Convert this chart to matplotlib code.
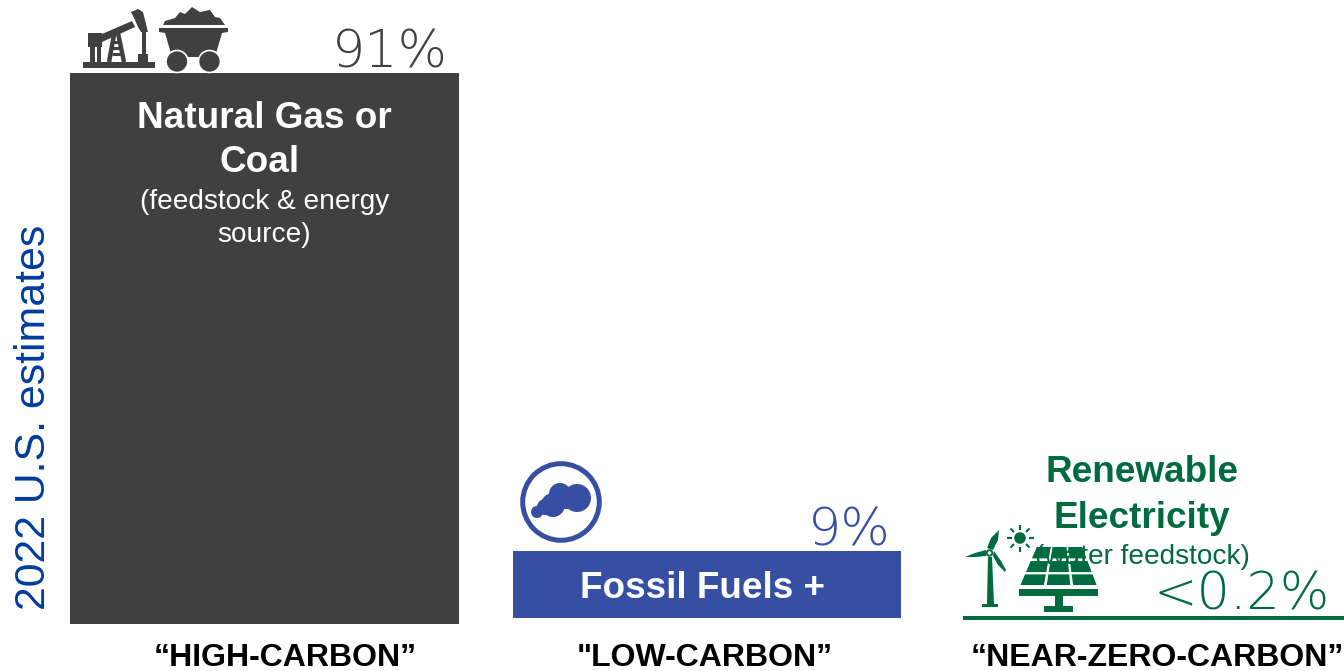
import matplotlib
matplotlib.use("Agg")
import matplotlib.pyplot as plt
from matplotlib import font_manager as fm
from matplotlib.patches import Polygon, Circle, Rectangle
import numpy as np
import glob

# bar heights, in percent-like units of the first bar
categories = ["\u201cHIGH-CARBON\u201d", "\"LOW-CARBON\u201d", "\u201cNEAR-ZERO-CARBON\u201d"]
share_labels = ["91%", "9%", "<0.2%"]
bar_heights = [91.0, 11.1, 0.7]
bar_bottoms = [0.0, 1.0, 0.65]
bar_lefts = [70, 513, 963]
bar_widths = [389, 388, 381]

DARK = "#404040"
BLUE = "#364fa2"
GREEN = "#006b3f"
bar_colors = [DARK, BLUE, GREEN]

plt.rcParams["font.family"] = ["Liberation Sans", "DejaVu Sans"]

# thin wide face for the big percentages
extra_light = glob.glob("/usr/share/fonts/**/DejaVuSans-ExtraLight.ttf", recursive=True)
lato_light = [f.fname for f in fm.fontManager.ttflist if f.fname.endswith("Lato-Light.ttf")]
if extra_light:
    pct_font = fm.FontProperties(fname=extra_light[0], size=37.5)
elif lato_light:
    pct_font = fm.FontProperties(fname=lato_light[0], size=37.5)
else:
    pct_font = fm.FontProperties(family="Lato", size=37.5)

W, H = 1344, 671
fig = plt.figure(figsize=(W / 100, H / 100), dpi=100)

# 6.055 px per unit, baseline at y=624 px
ax = fig.add_axes([0, 0, 1, 1])
ax.set_xlim(0, W)
ax.set_ylim(-(H - 624) / 6.055, 624 / 6.055)
ax.axis("off")
bars = ax.bar(bar_lefts, bar_heights, width=bar_widths, bottom=bar_bottoms,
              align="edge", color=bar_colors, linewidth=0)

# overlay in picture pixels for the text and the icons
ov = fig.add_axes([0, 0, 1, 1])
ov.set_xlim(0, W)
ov.set_ylim(H, 0)
ov.axis("off")
ov.patch.set_alpha(0)


def poly(pts, color):
    ov.add_patch(Polygon(pts, closed=True, color=color, linewidth=0))


def rect(x0, y0, x1, y1, color):
    ov.add_patch(Rectangle((x0, y0), x1 - x0, y1 - y0, color=color, linewidth=0))


def line(x0, y0, x1, y1, color, lw):
    ov.plot([x0, x1], [y0, y1], color=color, lw=lw, solid_capstyle="butt")


def oil_pump(c):
    rect(83, 62, 155, 68, c)
    rect(88, 33, 102, 47, c)
    rect(90, 47, 95, 62, c)
    rect(97, 47, 101, 62, c)
    poly([(102, 34), (132, 21), (135, 27), (102, 42)], c)
    poly([(131, 12), (138, 9), (143, 12), (148, 32), (141, 32), (138, 27), (135, 20)], c)
    # tower
    line(114, 35, 109, 62, c, 3.2)
    line(118, 33, 124, 62, c, 3.2)
    for y in (42, 48, 54):
        line(112, y, 121, y, c, 2.2)
    rect(142, 31, 145.5, 56, c)
    rect(138, 54, 148, 62, c)


def coal_cart(c):
    poly([(163, 25), (165, 21), (175, 18), (180, 12), (185, 14), (192, 7), (200, 12),
          (210, 10), (215, 17), (220, 18), (225, 25)], c)
    poly([(159, 28), (228, 28), (228, 32), (222, 33), (215, 57), (172, 57), (165, 33),
          (159, 32)], c)
    ov.add_patch(Circle((177, 61.5), 11, fc=c, ec="white", lw=1.2))
    ov.add_patch(Circle((209.5, 61.5), 11, fc=c, ec="white", lw=1.2))


def smoke(c):
    ov.add_patch(Circle((561, 502), 38.3, fc="none", ec=c, lw=3.6))
    for x, y, r in [(577, 498, 14), (560, 494, 11), (566, 499, 10), (553, 505, 12),
                    (545, 507, 8), (537, 512, 6)]:
        ov.add_patch(Circle((x, y), r, fc=c, lw=0))


def turbine(c):
    poly([(988, 557), (992, 557), (994, 604), (987, 604)], c)
    rect(982, 604, 998, 607, c)
    poly([(987, 548), (991, 538), (999, 530), (998, 540), (993, 550)], c)
    poly([(986, 550), (975, 553), (965, 557), (975, 557), (986, 556)], c)
    poly([(993, 556), (998, 565), (1005, 572), (1006, 570), (1001, 561), (994, 551)], c)
    ov.add_patch(Circle((989.5, 553), 2.8, fc="white", ec=c, lw=1.4))


def sun(c):
    cx, cy = 1020, 538
    ov.add_patch(Circle((cx, cy), 5.8, fc=c, lw=0))
    for a in np.arange(0, 360, 45):
        dx, dy = np.cos(np.radians(a)), np.sin(np.radians(a))
        line(cx + 8.5 * dx, cy + 8.5 * dy, cx + 13.5 * dx, cy + 13.5 * dy, c, 1.5)


def solar(c):
    top, bot = 547, 585
    xl0, xr0, xl1, xr1 = 1036, 1083, 1019, 1098
    edges = [(0, .30), (.37, .66), (.72, 1)]
    for r0, r1 in edges:
        y0, y1 = top + (bot - top) * r0, top + (bot - top) * r1
        for i in range(3):
            def px(frac, r):
                left = xl0 + (xl1 - xl0) * r
                right = xr0 + (xr1 - xr0) * r
                return left + (right - left) * frac
            f0, f1 = i / 3 + .018, (i + 1) / 3 - .018
            poly([(px(f0, r0), y0), (px(f1, r0), y0), (px(f1, r1), y1), (px(f0, r1), y1)], c)
    rect(1019, 589, 1098, 596, c)
    rect(1055, 596, 1063, 606, c)
    rect(1044, 606, 1073, 612, c)


oil_pump(DARK)
coal_cart(DARK)
smoke(BLUE)
turbine(GREEN)
sun(GREEN)
solar(GREEN)

# y label
ov.text(34, 610, "2022 U.S. estimates", rotation=90, color="#003c9e", fontsize=30.8,
        ha="center", va="bottom")

# category labels
label_x = [285, 705, 1157]
for x, t in zip(label_x, categories):
    ov.text(x, 658, t, ha="center", va="center", fontsize=23, fontweight="bold", color="black")

# share labels
pct_x = [448, 891, 1330]
pct_y = [67, 546, 610]
for x, y, t, c in zip(pct_x, pct_y, share_labels, ["#404040", BLUE, GREEN]):
    ov.text(x, y, t, ha="right", va="baseline", fontproperties=pct_font, color=c)

# text in the bars
ov.text(264, 119, "Natural Gas or", ha="center", va="center", fontsize=26.6, fontweight="bold", color="white")
ov.text(260, 163, "Coal", ha="center", va="center", fontsize=26.6, fontweight="bold", color="white")
ov.text(265, 202, "(feedstock & energy", ha="center", va="center", fontsize=20.2, color="white")
ov.text(264, 235, "source)", ha="center", va="center", fontsize=20.2, color="white")

ov.text(702, 589, "Fossil Fuels +", ha="center", va="center", fontsize=26.6, fontweight="bold", color="white")
# second line runs off the blue bar and is cut at its lower edge
ccus = ov.text(702, 634, "CCUS", ha="center", va="center", fontsize=26.6, fontweight="bold", color="white")
ccus.set_clip_path(Rectangle((513, 551), 388, 67, transform=ov.transData))
ccus.set_clip_on(True)

ov.text(1142, 473, "Renewable", ha="center", va="center", fontsize=26.6, fontweight="bold", color=GREEN)
ov.text(1142, 518, "Electricity", ha="center", va="center", fontsize=26.6, fontweight="bold", color=GREEN)
ov.text(1142, 557, "(water feedstock)", ha="center", va="center", fontsize=20.2, color=GREEN)

fig.savefig("out.png", dpi=100)
